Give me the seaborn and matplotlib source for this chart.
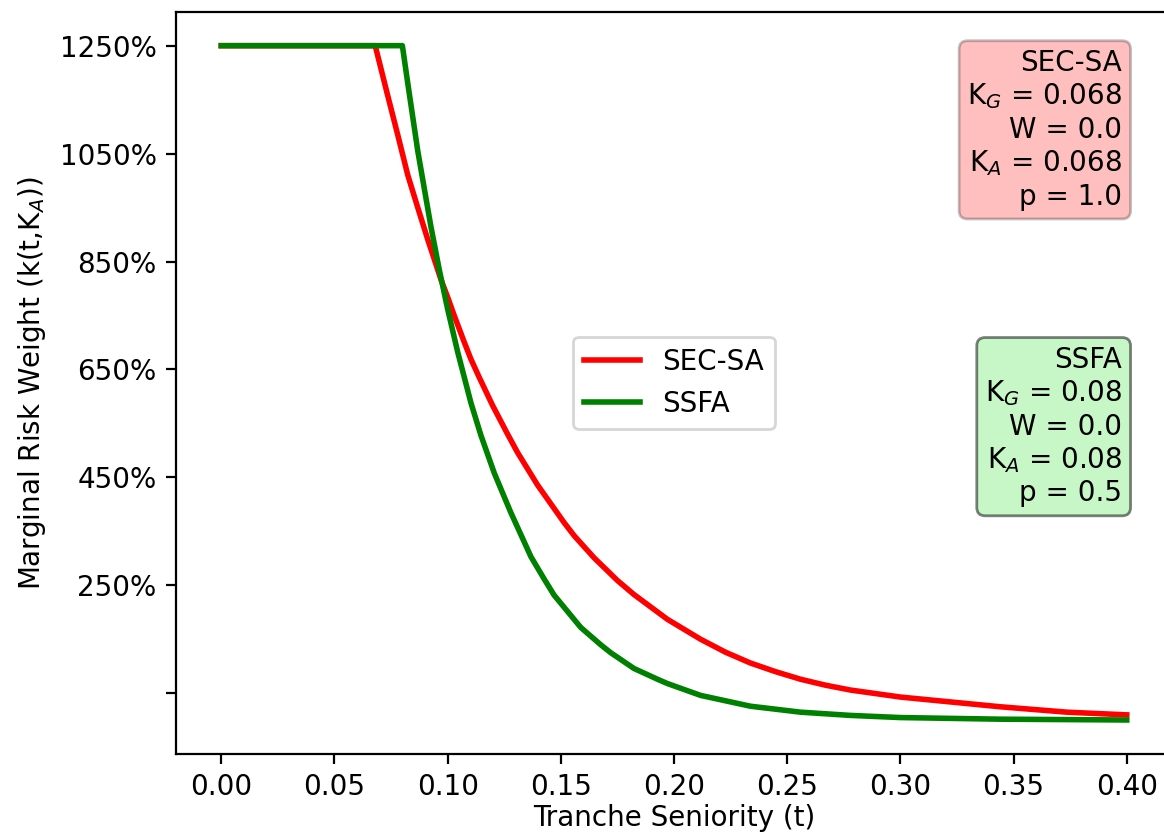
import matplotlib
matplotlib.use("Agg")
import matplotlib.pyplot as plt
import seaborn as sns

# values (risk weight in %)
t_secsa = [0.0, 0.068, 0.0735, 0.078, 0.0824, 0.0868, 0.0912, 0.0971, 0.100, 0.1029,
           0.1073, 0.1103, 0.114, 0.1199, 0.1265, 0.1309, 0.1397, 0.1515, 0.1559,
           0.1647, 0.175, 0.1823, 0.1897, 0.1971, 0.2118, 0.2228, 0.2338, 0.2449,
           0.2559, 0.2669, 0.2779, 0.300, 0.3441, 0.3735, 0.400]
rw_secsa = [1250, 1250, 1158, 1084, 1010, 950, 891, 816, 784, 750,
            701, 669, 635, 583, 530, 496, 436, 366, 342,
            301, 259, 233, 210, 187, 150, 126, 106, 90,
            76, 65, 56, 43, 25, 15, 10]

t_ssfa = [0.0, 0.080, 0.0824, 0.0868, 0.0897, 0.0926, 0.0963, 0.100, 0.1044, 0.1103,
          0.1147, 0.1206, 0.1279, 0.1368, 0.1426, 0.147, 0.1588, 0.1676, 0.1721,
          0.1823, 0.1927, 0.1971, 0.2118, 0.2338, 0.2559, 0.2779, 0.300, 0.3441, 0.400]
rw_ssfa = [1250, 1250, 1180, 1055, 985, 915, 835, 762, 683, 588,
           528, 458, 385, 303, 262, 232, 172, 140, 125,
           96, 76, 68, 46, 26, 15, 9, 5, 2, 0.5]

yticks = [1250, 1050, 850, 650, 450, 250, 50]
ytick_labels = ['1250%', '1050%', '850%', '650%', '450%', '250%', '']

secsa_info = 'SEC-SA\nK$_G$ = 0.068\nW = 0.0\nK$_A$ = 0.068\np = 1.0'
ssfa_info = 'SSFA\nK$_G$ = 0.08\nW = 0.0\nK$_A$ = 0.08\np = 0.5'

fig = plt.figure(figsize=(5.82, 4.18), dpi=200)
ax = fig.add_axes([0.1512, 0.0981, 0.8557, 0.8876])

sns.lineplot(x=t_secsa, y=rw_secsa, color='red', linewidth=2, label='SEC-SA', ax=ax)
sns.lineplot(x=t_ssfa, y=rw_ssfa, color='green', linewidth=2, label='SSFA', ax=ax)

ax.set_xlim(-0.02, 0.42)
ax.set_ylim(-62.5, 1312.5)
ax.set_xticks([0.0, 0.05, 0.10, 0.15, 0.20, 0.25, 0.30, 0.35, 0.40])
ax.set_xticklabels(['0.00', '0.05', '0.10', '0.15', '0.20', '0.25', '0.30', '0.35', '0.40'])
ax.set_yticks(yticks)
ax.set_yticklabels(ytick_labels)

ax.set_xlabel('Tranche Seniority (t)', labelpad=1)
ax.set_ylabel('Marginal Risk Weight (k(t,K$_A$))')

ax.legend(loc='center')

ax.text(0.95, 0.95, secsa_info, transform=ax.transAxes, ha='right', va='top',
        multialignment='right', bbox=dict(boxstyle='round', facecolor='red', alpha=0.25))
ax.text(0.95, 0.55, ssfa_info, transform=ax.transAxes, ha='right', va='top',
        multialignment='right', bbox=dict(boxstyle='round', facecolor='lightgreen', alpha=0.5))

fig.savefig('out.png', dpi=200)
